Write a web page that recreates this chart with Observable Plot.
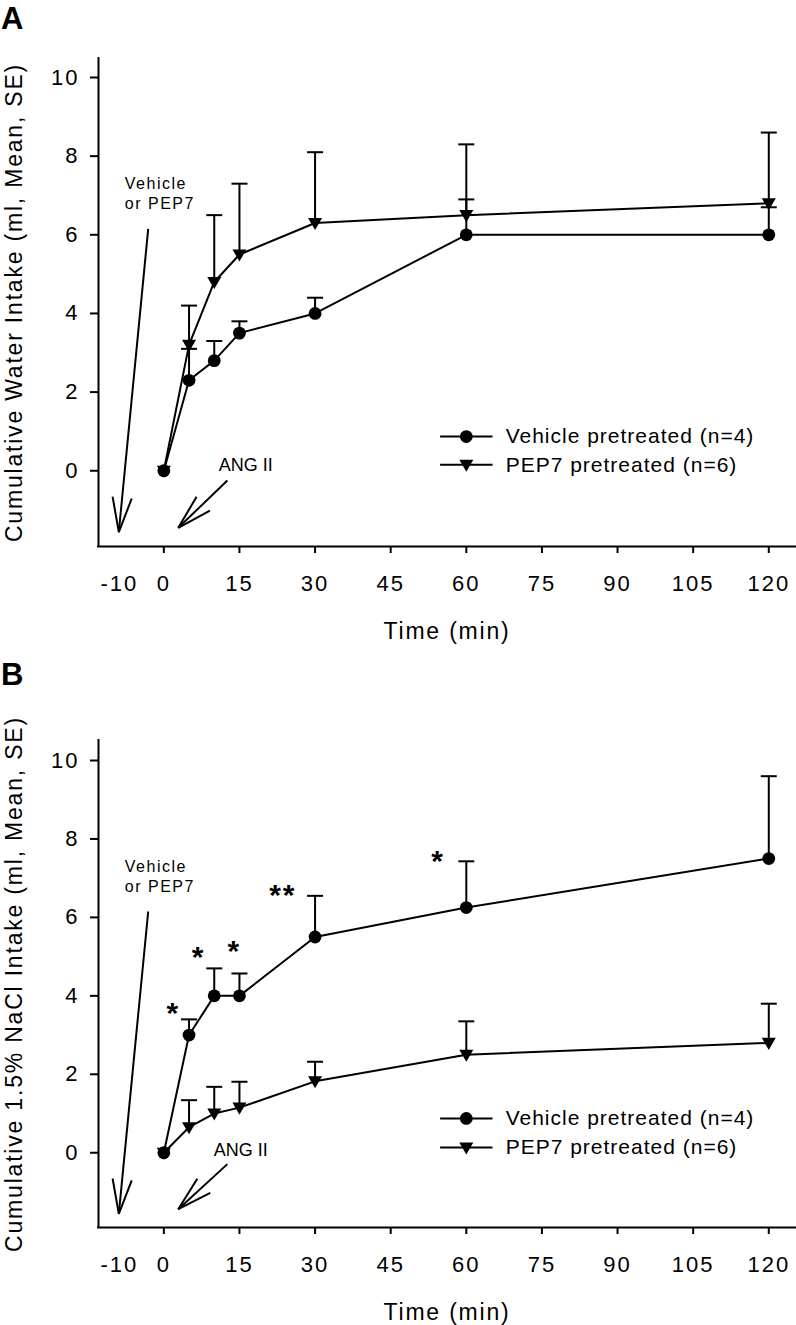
<!DOCTYPE html>
<html>
<head>
<meta charset="utf-8">
<script src="https://cdn.jsdelivr.net/npm/d3@7"></script>
<script src="https://cdn.jsdelivr.net/npm/@observablehq/plot@0.6"></script>
<style>
  html, body { margin: 0; padding: 0; background: #fff; overflow: hidden; }
  #wrap { position: relative; width: 796px; height: 1325px; }
  #wrap svg { display: block; }
  .letter { position: absolute; left: 1px; font: bold 31px "Liberation Sans", Arial, sans-serif; line-height: 31px; color: #000; }
</style>
</head>
<body>
<div id="wrap"></div>
<script>
// ---------- data ----------
const times = [0, 5, 10, 15, 30, 60, 120];
const xTicks = [0, 15, 30, 45, 60, 75, 90, 105, 120];
const yTicks = [0, 2, 4, 6, 8, 10];
const seriesNames = ["Vehicle pretreated (n=4)", "PEP7 pretreated (n=6)"];

// Panel A: cumulative water intake (mean and mean+SE)
const waterVehicleMean = [0, 2.3, 2.8, 3.5, 4.0, 6.0, 6.0];
const waterVehicleTop  = [0, 3.1, 3.3, 3.8, 4.4, 6.9, 6.7];
const waterPep7Mean    = [0, 3.2, 4.8, 5.5, 6.3, 6.5, 6.8];
const waterPep7Top     = [0, 4.2, 6.5, 7.3, 8.1, 8.3, 8.6];

// Panel B: cumulative 1.5% NaCl intake (mean and mean+SE)
const naclVehicleMean = [0, 3.0, 4.0, 4.0, 5.5, 6.25, 7.5];
const naclVehicleTop  = [0, 3.4, 4.7, 4.57, 6.55, 7.43, 9.6];
const naclPep7Mean    = [0, 0.65, 1.0, 1.15, 1.82, 2.5, 2.8];
const naclPep7Top     = [0, 1.34, 1.68, 1.81, 2.32, 3.35, 3.8];

// significance marks in panel B (data coordinates)
const starLabels = ["*", "*", "*", "**", "*"];
const starX = [1.9, 6.9, 14, 23.6, 54.4];
const starY = [3.85, 5.28, 5.43, 6.87, 7.72];

// ---------- symbols / markers ----------
const triangleDown = {
  draw(ctx, size) {
    const r = Math.sqrt(size / Math.PI);
    ctx.moveTo(-r, -0.72 * r);
    ctx.lineTo(r, -0.72 * r);
    ctx.lineTo(0, r);
    ctx.closePath();
  }
};
const capSymbol = {
  draw(ctx, size) {
    const r = Math.sqrt(size / Math.PI);
    ctx.moveTo(-r, 0);
    ctx.lineTo(r, 0);
  }
};
function openArrow(color, context) {
  const doc = (context && context.document) || document;
  const ns = "http://www.w3.org/2000/svg";
  const m = doc.createElementNS(ns, "marker");
  m.setAttribute("viewBox", "-45 -20 50 40");
  m.setAttribute("markerWidth", 50);
  m.setAttribute("markerHeight", 40);
  m.setAttribute("markerUnits", "userSpaceOnUse");
  m.setAttribute("orient", "auto");
  m.setAttribute("refX", 0);
  m.setAttribute("refY", 0);
  m.setAttribute("overflow", "visible");
  const p = doc.createElementNS(ns, "path");
  const L = 36, a = 15.5 * Math.PI / 180;
  const ex = -L * Math.cos(a), ey = L * Math.sin(a);
  p.setAttribute("d", `M${ex},${-ey}L0,0L${ex},${ey}`);
  p.setAttribute("fill", "none");
  p.setAttribute("stroke", color === "currentColor" ? "black" : color);
  p.setAttribute("stroke-width", 2);
  m.appendChild(p);
  return m;
}

const FONT = '"Liberation Sans", Arial, sans-serif';
const SPACING = {16: 1.5, 21: 1, 22: 2, 23: 1.8, 30: 2};

function panel(cfg) {
  const {yLabel, vMean, vTop, pMean, pTop, height, marginTop, marginBottom,
         yDomain, legendY, angX, angY, arrowAng, stars} = cfg;
  const xDomain = [-12.96, 125.3];
  const vData = times.map((t, i) => ({t, mean: vMean[i], top: vTop[i]}));
  const pData = times.map((t, i) => ({t, mean: pMean[i], top: pTop[i]}));
  const vErr = vData.filter(d => d.top > d.mean);
  const pErr = pData.filter(d => d.top > d.mean);
  const legend = seriesNames.map((name, i) => ({name, y: legendY[i]}));
  const arrows = [
    {x1: -3.1, y1: 6.15, x2: -8.93, y2: -1.56},
    arrowAng
  ];
  const marks = [
    // axis lines
    Plot.ruleX([xDomain[0]], {stroke: "black", strokeWidth: 2, strokeLinecap: "square"}),
    Plot.ruleY([yDomain[0]], {stroke: "black", strokeWidth: 2, strokeLinecap: "square"}),
    Plot.axisX(xTicks, {tickSize: 7, tickPadding: 22, fontSize: 22, strokeWidth: 2, fill: "black", stroke: "black"}),
    Plot.axisY(yTicks, {tickSize: 8, tickPadding: 11, fontSize: 22, strokeWidth: 2, fill: "black", stroke: "black"}),
    Plot.text(["-10"], {x: -10, frameAnchor: "bottom", dy: 29, dx: 6, lineAnchor: "top", textAnchor: "middle", fontSize: 22, fill: "black"}),
    Plot.text(["Time (min)"], {frameAnchor: "bottom", dy: 76, lineAnchor: "top", textAnchor: "middle", fontSize: 23, fill: "black"}),
    Plot.text([yLabel], {frameAnchor: "left", dx: -84, rotate: -90, lineAnchor: "middle", textAnchor: "middle", fontSize: 23, fill: "black"}),
    // annotations
    Plot.link(arrows, {x1: "x1", y1: "y1", x2: "x2", y2: "y2", stroke: "black", strokeWidth: 2, markerEnd: openArrow}),
    Plot.text(["Vehicle\nor PEP7"], {x: -7.74, y: 7.52, textAnchor: "start", lineAnchor: "top", lineHeight: 1.25, fontSize: 16, fill: "black"}),
    Plot.text(["ANG II"], {x: angX, y: angY, textAnchor: "start", lineAnchor: "top", fontSize: 18, fill: "black"}),
    // error bars
    Plot.ruleX(vErr, {x: "t", y1: "mean", y2: "top", stroke: "black", strokeWidth: 2}),
    Plot.dot(vErr, {x: "t", y: "top", symbol: capSymbol, r: 8, fill: "none", stroke: "black", strokeWidth: 2}),
    Plot.ruleX(pErr, {x: "t", y1: "mean", y2: "top", stroke: "black", strokeWidth: 2}),
    Plot.dot(pErr, {x: "t", y: "top", symbol: capSymbol, r: 8, fill: "none", stroke: "black", strokeWidth: 2}),
    // lines
    Plot.line(vData, {x: "t", y: "mean", stroke: "black", strokeWidth: 2}),
    Plot.line(pData, {x: "t", y: "mean", stroke: "black", strokeWidth: 2}),
    // markers
    Plot.dot(vData, {x: "t", y: "mean", symbol: "circle", r: 6.4, fill: "black", stroke: "none"}),
    Plot.dot(pData, {x: "t", y: "mean", symbol: triangleDown, r: 7, fill: "black", stroke: "none"}),
    // legend
    Plot.link(legend, {x1: 54.8, x2: 65.2, y1: "y", y2: "y", stroke: "black", strokeWidth: 2}),
    Plot.dot(legend.slice(0, 1), {x: 60, y: "y", symbol: "circle", r: 6.4, fill: "black", stroke: "none"}),
    Plot.dot(legend.slice(1), {x: 60, y: "y", symbol: triangleDown, r: 7, fill: "black", stroke: "none"}),
    Plot.text(legend, {x: 67.8, y: "y", text: "name", textAnchor: "start", lineAnchor: "middle", fontSize: 21, fill: "black"})
  ];
  if (stars) {
    marks.push(Plot.text(stars, {x: "x", y: "y", text: "label", textAnchor: "middle", lineAnchor: "top", fontSize: 30, fontWeight: "bold", fill: "black"}));
  }
  return Plot.plot({
    width: 796,
    height,
    marginTop,
    marginBottom,
    marginLeft: 98,
    marginRight: 1,
    x: {type: "linear", domain: xDomain},
    y: {type: "linear", domain: yDomain},
    style: {fontFamily: FONT, color: "black", background: "white", overflow: "visible"},
    marks
  });
}

const stars = starLabels.map((label, i) => ({label, x: starX[i], y: starY[i]}));

const wrap = document.getElementById("wrap");
const svgA = panel({
  yLabel: "Cumulative Water Intake (ml, Mean, SE)",
  vMean: waterVehicleMean, vTop: waterVehicleTop, pMean: waterPep7Mean, pTop: waterPep7Top,
  height: 650, marginTop: 58, marginBottom: 104,
  yDomain: [-1.926, 10.483],
  legendY: [0.87, 0.15],
  angX: 10.9, angY: 0.33,
  arrowAng: {x1: 12.6, y1: -0.25, x2: 2.86, y2: -1.45}
});
const svgB = panel({
  yLabel: "Cumulative 1.5% NaCl Intake (ml, Mean, SE)",
  vMean: naclVehicleMean, vTop: naclVehicleTop, pMean: naclPep7Mean, pTop: naclPep7Top,
  height: 675, marginTop: 90, marginBottom: 98,
  yDomain: [-1.906, 10.51],
  legendY: [0.875, 0.135],
  angX: 9.9, angY: 0.24,
  arrowAng: {x1: 12.6, y1: -0.29, x2: 2.86, y2: -1.44},
  stars
});
wrap.appendChild(svgA);
wrap.appendChild(svgB);
// letter spacing by font size (reference text is slightly tracked)
for (const svg of [svgA, svgB]) {
  svg.querySelectorAll("text").forEach(t => {
    const fs = Math.round(parseFloat(getComputedStyle(t).fontSize));
    if (SPACING[fs] != null) t.style.letterSpacing = SPACING[fs] + "px";
  });
}
const la = document.createElement("div");
la.className = "letter"; la.style.top = "3px"; la.textContent = "A";
const lb = document.createElement("div");
lb.className = "letter"; lb.style.top = "659px"; lb.textContent = "B";
wrap.appendChild(la);
wrap.appendChild(lb);
</script>
</body>
</html>
